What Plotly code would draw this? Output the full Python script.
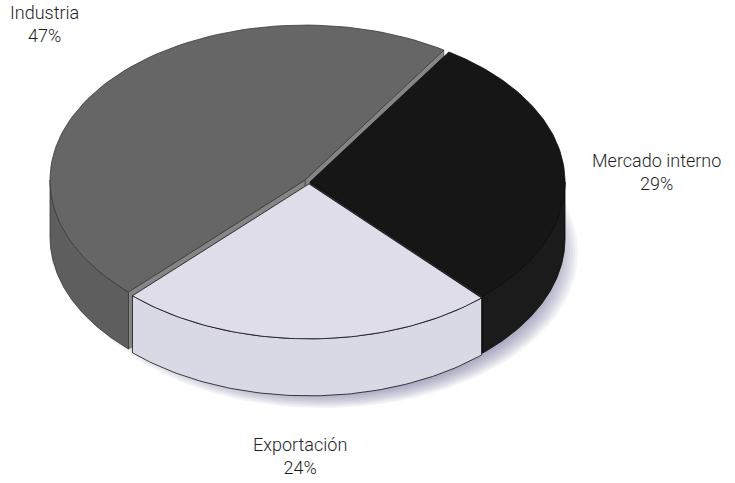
import numpy as np
import plotly.graph_objects as go

# Sales destination shares (percent)
labels = ["Industria", "Mercado interno", "Exportación"]
shares = [47, 29, 24]

# drawing order of slices, clockwise from the start angle
slice_order = ["Mercado interno", "Exportación", "Industria"]

top_colors = {"Industria": "#666666", "Mercado interno": "#161616", "Exportación": "#dedde9"}
side_colors = {"Industria": "#5e5e5e", "Mercado interno": "#1b1b1b", "Exportación": "#d9d8e5"}
face_colors = {"Industria": "#858585", "Mercado interno": "#262626", "Exportación": "#c8c8d6"}
edge_colors = {"Industria": "#3a3a3a", "Mercado interno": "#0a0a0a", "Exportación": "#111111"}
explode = {"Industria": 0.02, "Mercado interno": 0.004, "Exportación": 0.012}

W, H = 735, 483
CX, CY = 309, 182          # centre of the top face
RX, RY = 255, 155          # radii of the top ellipse
DEPTH = 57                 # thickness of the pie
START = 57.0               # angle of the first boundary (degrees)

fig = go.Figure()


def ring(cx, cy, rx, ry, a0, a1, n=90, dz=0.0):
    t = np.radians(np.linspace(a0, a1, n))
    return cx + rx * np.cos(t), cy - ry * np.sin(t) + dz


def poly(xs, ys, fill, line_color, width=1.0):
    fig.add_trace(go.Scatter(
        x=np.append(xs, xs[0]), y=np.append(ys, ys[0]), mode="lines",
        fill="toself", fillcolor=fill,
        line=dict(color=line_color, width=width), hoverinfo="skip",
        showlegend=False))


# soft shadow beneath the pie
for k in range(12):
    grow = 1.0 - k * 0.01
    sx, sy = ring(CX + 14, CY + DEPTH + 14, RX * grow, RY * grow, 0, 360, 120)
    poly(sx, sy, "rgba(100,100,135,0.07)", "rgba(0,0,0,0)", 0)

share_of = dict(zip(labels, shares))
angles = {}
cur = START
for name in slice_order:
    span = share_of[name] * 3.6
    angles[name] = (cur - span, cur)
    cur -= span

# painter's order: back slice first
for name in ["Industria", "Mercado interno", "Exportación"]:
    a0, a1 = angles[name]
    mid = np.radians((a0 + a1) / 2)
    ox = CX + RX * explode[name] * np.cos(mid)
    oy = CY - RY * explode[name] * np.sin(mid)

    # radial faces that turn toward the viewer
    for ang, sign in ((a0, -1), (a1, 1)):
        normal = np.radians(ang + sign * 90)
        if np.sin(normal) < 0:
            rx_, ry_ = ring(ox, oy, RX, RY, ang, ang, 1)
            xs = np.array([ox, rx_[0], rx_[0], ox])
            ys = np.array([oy, ry_[0], ry_[0] + DEPTH, oy + DEPTH])
            poly(xs, ys, face_colors[name], edge_colors[name], 0.6)

    # curved outer wall: only the front half (sin < 0) is visible
    if a0 >= 0:
        lo, hi = max(a0, 180), min(a1, 360)
    else:
        lo, hi = max(a0, -180), min(a1, 0)
    if hi > lo:
        tx, ty = ring(ox, oy, RX, RY, lo, hi)
        bx, by = ring(ox, oy, RX, RY, hi, lo, dz=DEPTH)
        poly(np.concatenate([tx, bx]), np.concatenate([ty, by]),
             side_colors[name], edge_colors[name], 0.8)

    # top face
    tx, ty = ring(ox, oy, RX, RY, a0, a1)
    poly(np.concatenate([[ox], tx]), np.concatenate([[oy], ty]),
         top_colors[name], edge_colors[name], 0.8)

# slice labels
label_pos = {"Industria": (44, 24), "Mercado interno": (656, 172), "Exportación": (300, 456)}
for name in labels:
    x, y = label_pos[name]
    fig.add_annotation(x=x, y=y, text=f"{name}<br>{share_of[name]}%", showarrow=False,
                       font=dict(family="Roboto", size=18, weight=300, color="#1e1e1e"),
                       align="center", xanchor="center", yanchor="middle")

fig.update_layout(
    width=W, height=H, margin=dict(l=0, r=0, t=0, b=0),
    paper_bgcolor="white", plot_bgcolor="white",
    xaxis=dict(range=[0, W], visible=False, fixedrange=True),
    yaxis=dict(range=[H, 0], visible=False, fixedrange=True),
)

fig.write_html("out.html")
